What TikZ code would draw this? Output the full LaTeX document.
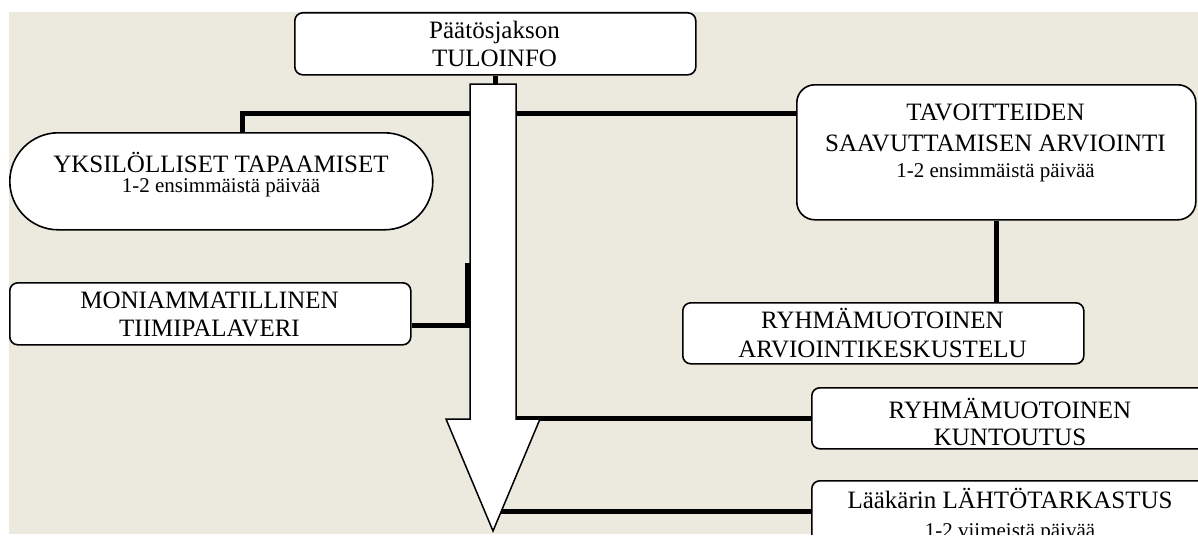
\documentclass[tikz,border=0pt]{standalone}
\usepackage{fontspec}
\setmainfont{Liberation Serif}
\definecolor{paper}{RGB}{236,233,223}
\newcommand{\capsize}[1]{\fontsize{25pt}{#1}\selectfont}
\newcommand{\smallsize}[1]{\fontsize{21pt}{#1}\selectfont}
\begin{document}
\begin{tikzpicture}[x=1pt,y=-1pt,
  box/.style={draw=black, line width=1.6pt, fill=white, rounded corners=#1,
    inner sep=0pt, anchor=north west},
  box/.default=8pt,
  conn/.style={draw=black, line width=5pt, line join=miter},
  flow/.style={draw=black, line width=1.5pt, fill=white, line join=miter},
  txt/.style={anchor=base, inner sep=0pt},
]
\useasboundingbox (0,0) rectangle (1198,535);
\fill[white] (0,0) rectangle (1198,535);
\begin{scope}
\clip (0,0) rectangle (1198,534);
\fill[paper] (9,12) rectangle (1198,534);

% points on the big downward arrow
\coordinate (shaftTop) at (493,84);
\coordinate (shaftL)   at (470,113);
\coordinate (shaftR)   at (516,113);
\coordinate (shaftL2)  at (467,263);
\coordinate (moniJ)    at (467,325);
\coordinate (shaftBR)  at (516,418);
\coordinate (headR)    at (501.4,511);

% boxes
\node[box] (top)  at (294,12)  [minimum width=401pt, minimum height=62pt] {};
\node[box=48.5pt] (yksi) at (9,132) [minimum width=423pt, minimum height=97pt] {};
\node[box] (moni) at (9,282)   [minimum width=401pt, minimum height=62pt] {};
\node[box=18pt] (tav) at (796,84) [minimum width=399pt, minimum height=135pt] {};
\node[box] (arv)  at (682,302) [minimum width=401pt, minimum height=61pt] {};
\node[box] (kunt) at (811,387) [minimum width=398pt, minimum height=61pt] {};
\node[box] (laak) at (811,480) [minimum width=398pt, minimum height=80pt] {};

% connectors
\draw[conn] (top.south) -- (top.south |- shaftTop);
\draw[conn] (shaftL) -| ([xshift=21.5pt]yksi.north);
\draw[conn] (shaftR) -- (tav.west |- shaftR);
\draw[conn] (tav.south) -- (tav.south |- arv.north);
\draw[conn] (moni.east |- moniJ) -- (moniJ) -- (shaftL2);
\draw[conn] (shaftBR) -- (kunt.west |- shaftBR);
\draw[conn] (headR) -- (laak.west |- headR);

% the big downward arrow
\draw[flow] (470,84) -- (516,84) -- (516,419) -- (540,419) -- (493,531)
  -- (446,419) -- (470,419) -- cycle;

% texts
\node[txt] (topT) at (494.5,39)
  {\parbox[t]{390pt}{\centering\capsize{28pt}Päätösjakson\\TULOINFO}};
\node[txt] (yksiT) at (221,172)
  {\parbox[t]{410pt}{\centering\capsize{28pt}YKSILÖLLISET TAPAAMISET\par
   \smallsize{20pt}1-2 ensimmäistä päivää\par}};
\node[txt] (moniT) at (209.5,308)
  {\parbox[t]{390pt}{\centering\capsize{28pt}MONIAMMATILLINEN\\TIIMIPALAVERI}};
\node[txt] (tavT) at (995.5,120)
  {\parbox[t]{390pt}{\centering\capsize{31pt}TAVOITTEIDEN\\SAAVUTTAMISEN ARVIOINTI\par
   \smallsize{26pt}1-2 ensimmäistä päivää\par}};
\node[txt] (arvT) at (882.5,328)
  {\parbox[t]{390pt}{\centering\capsize{29pt}RYHMÄMUOTOINEN\\ARVIOINTIKESKUSTELU}};
\node[txt] (kuntT) at (1010,418)
  {\parbox[t]{390pt}{\centering\capsize{27pt}RYHMÄMUOTOINEN\\KUNTOUTUS}};
\node[txt] (laakT) at (1010,508)
  {\parbox[t]{390pt}{\centering\capsize{28pt}Lääkärin LÄHTÖTARKASTUS\par
   \smallsize{29pt}1-2 viimeistä päivää\par}};
\end{scope}
\end{tikzpicture}
\end{document}
